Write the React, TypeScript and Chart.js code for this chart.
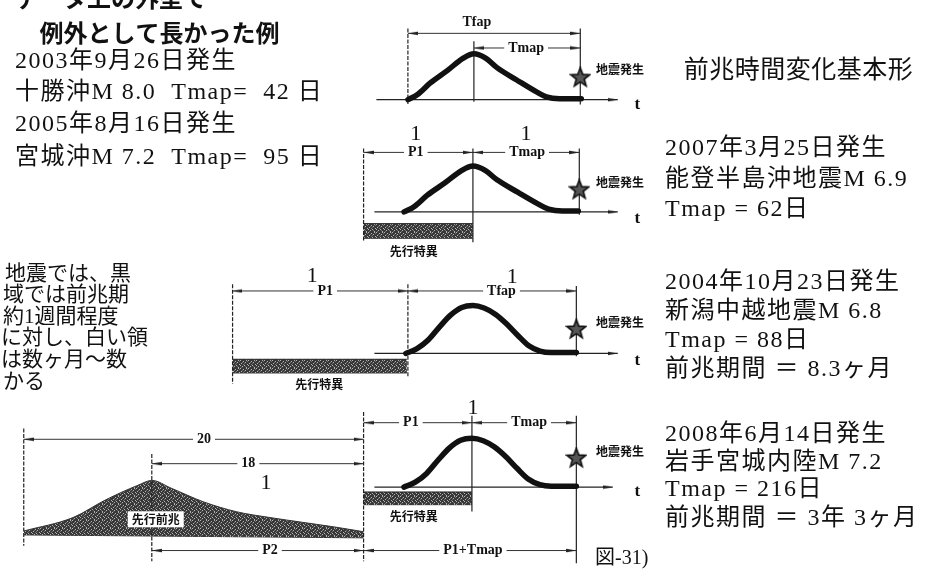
import React, { useEffect, useRef } from "react";
import { Chart, registerables } from "chart.js";

Chart.register(...registerables);

// ---------------- data ----------------
// pointed pulse (upper two panels): time in shape units, normalised amplitude
const pulseT = [-3, -2.55, -2, -1.2, -0.5, 0, 0.55, 1.05, 1.95, 2.85, 3.3, 3.9];
const pulseA = [0, 0.12, 0.36, 0.64, 0.9, 1, 0.9, 0.7, 0.43, 0.17, 0.06, 0.02];
// rounded pulse (lower two panels)
const roundT = [-3, -2.5, -2, -1.5, -1, -0.5, 0, 0.5, 1, 1.5, 2, 2.5, 3, 3.5];
const roundA = [0, 0.1, 0.28, 0.55, 0.8, 0.96, 1, 0.95, 0.82, 0.62, 0.38, 0.16, 0.05, 0.02];
// long precursor mound (fraction of span, normalised height)
const moundU = [0, 0.145, 0.24, 0.336, 0.377, 0.435, 0.53, 0.626, 0.725, 0.82, 0.916, 1];
const moundH = [0.07, 0.32, 0.64, 0.91, 1, 0.86, 0.62, 0.45, 0.35, 0.27, 0.19, 0.11];

// texts
const headerLines = ["データ上の外型で", "例外として長かった例"];
const exceptionLines = [
  "2003年9月26日発生",
  "十勝沖M 8.0  Tmap=  42 日",
  "2005年8月16日発生",
  "宮城沖M 7.2  Tmap=  95 日",
];
const noteLines = ["地震では、黒", "域では前兆期", "約1週間程度", "に対し、白い領", "は数ヶ月～数", "かる"];
const basicTitle = "前兆時間変化基本形";
const notoLines = ["2007年3月25日発生", "能登半島沖地震M 6.9", "Tmap = 62日"];
const chuetsuLines = ["2004年10月23日発生", "新潟中越地震M 6.8", "Tmap = 88日", "前兆期間 ＝ 8.3ヶ月"];
const iwateLines = ["2008年6月14日発生", "岩手宮城内陸M 7.2", "Tmap = 216日", "前兆期間 ＝ 3年 3ヶ月"];
const quakeLabel = "地震発生";
const anomalyLabel = "先行特異";
const precursorLabel = "先行前兆";
const axisLabel = "t";
const figLabel = "図-31)";
const ratioLabel = "1";
const dimLabels = ["Tfap", "Tmap", "P1", "Tmap", "P1", "Tfap", "20", "18", "P2", "P1", "Tmap", "P1+Tmap"];

// ---------------- layout (diagram coordinates) ----------------
const panels = [
  { round: false, peak: 474, unit: 22.3, base: 95, h: 47, tail: 583, lineL: 375, lineR: 620 },
  { round: false, peak: 473, unit: 23.3, base: 210, h: 47, tail: 580, lineL: 373, lineR: 620 },
  { round: true, peak: 473, unit: 22.7, base: 355, h: 49, tail: 578, lineL: 373, lineR: 620 },
  { round: true, peak: 472, unit: 23, base: 492, h: 50, tail: 578, lineL: 373, lineR: 615 },
];
const verticals = [
  [407, 22, 100, 1], [474, 35, 97, 0], [582, 22, 100, 0],
  [362, 145, 240, 1], [473, 145, 241, 0], [581, 145, 213, 0],
  [229, 284, 386, 1], [407, 284, 380, 1], [578, 286, 358, 0],
  [17, 432, 552, 1], [147, 458, 568, 1], [362, 415, 568, 1], [472, 419, 517, 0], [578, 419, 570, 0],
];
// y, x1, x2, label x, label y
const dims = [
  [27, 407, 582, 477, 16],
  [42, 474, 582, 527, 42],
  [149, 362, 473, 415, 149],
  [149, 473, 581, 528, 149],
  [291, 229, 407, 323, 291],
  [291, 407, 578, 502, 291],
  [443, 17, 362, 200, 443],
  [468, 147, 362, 245, 468],
  [557, 147, 362, 267, 557],
  [426, 362, 472, 410, 426],
  [426, 472, 578, 530, 426],
  [557, 362, 578, 473, 557],
];
const bars = [
  [362, 473, 222, 237],
  [229, 406, 361, 375],
  [362, 472, 497, 510],
];
const stars = [[582, 72], [581, 187], [578, 330], [578, 462]];
const mound = { x1: 17, x2: 362, b1: 541, b2: 544, h: 57 };

const SERIF = '"Liberation Serif", "Noto Sans CJK JP", serif';
const GOTHIC = '"Noto Sans CJK JP", sans-serif';

type TextItem = {
  t: string; x: number; y: number; font: string;
  align?: CanvasTextAlign; ls?: number; bg?: boolean; box?: boolean;
};

function buildTexts(): TextItem[] {
  const T: TextItem[] = [];
  T.push({ t: headerLines[0], x: 8, y: -9, font: `bold 24px ${GOTHIC}` });
  T.push({ t: headerLines[1], x: 33, y: 27, font: `bold 24px ${GOTHIC}` });
  const exY = [56, 88, 121, 154];
  exceptionLines.forEach((t, i) => T.push({ t, x: 8, y: exY[i], font: `24px ${SERIF}`, ls: 1.5 }));
  const nX = [-2, -4, -4, -6, -6, -4];
  const nY = [274, 296, 318, 340, 362, 385];
  noteLines.forEach((t, i) => T.push({ t, x: nX[i], y: nY[i], font: `21px ${SERIF}` }));
  T.push({ t: basicTitle, x: 687, y: 63, font: `25px ${GOTHIC}`, ls: 0.5 });
  const rx = 668;
  const nyA = [145, 177, 208];
  notoLines.forEach((t, i) => T.push({ t, x: rx, y: nyA[i], font: `24px ${SERIF}`, ls: 1.5 }));
  const cy = [283, 312, 342, 372];
  chuetsuLines.forEach((t, i) => T.push({ t, x: rx, y: cy[i], font: `24px ${SERIF}`, ls: 1.5 }));
  const iy = [438, 467, 495, 524];
  iwateLines.forEach((t, i) => T.push({ t, x: rx, y: iy[i], font: `24px ${SERIF}`, ls: 1.5 }));
  T.push({ t: figLabel, x: 597, y: 565, font: `20px ${SERIF}` });

  const qy = [64, 180, 323, 455];
  qy.forEach((y) => T.push({ t: quakeLabel, x: 598, y, font: `bold 12px ${GOTHIC}` }));
  const ty = [100, 217, 362, 497];
  ty.forEach((y) => T.push({ t: axisLabel, x: 640, y, font: `bold 17px ${SERIF}`, align: "center" }));
  const ap = [[413, 250], [317, 387], [413, 522]];
  ap.forEach(([x, y]) => T.push({ t: anomalyLabel, x, y, font: `bold 12px ${GOTHIC}`, align: "center" }));
  const ones = [[415, 130], [527, 130], [310, 276], [513, 277], [473, 411], [263, 488]];
  ones.forEach(([x, y]) => T.push({ t: ratioLabel, x, y, font: `22px ${SERIF}`, align: "center" }));
  dims.forEach((d, i) =>
    T.push({ t: dimLabels[i], x: d[3], y: d[4], font: `bold 14px ${SERIF}`, align: "center", bg: true })
  );
  T.push({ t: precursorLabel, x: 151, y: 525, font: `bold 12px ${GOTHIC}`, align: "center", box: true });
  return T;
}

// speckled dark-grey texture (fixed dither, 8x8 tile)
const speckLight = [[0, 0], [3, 1], [6, 0], [1, 3], [5, 2], [7, 4], [2, 6], [4, 5], [6, 7], [0, 5]];
const speckMid = [[2, 2], [7, 1], [4, 3], [1, 7], [5, 6], [3, 4]];
function makePattern(ctx: CanvasRenderingContext2D) {
  const c = document.createElement("canvas");
  c.width = 8; c.height = 8;
  const g = c.getContext("2d")!;
  g.fillStyle = "#383838"; g.fillRect(0, 0, 8, 8);
  g.fillStyle = "#b4b4b4"; speckLight.forEach(([x, y]) => g.fillRect(x, y, 1, 1));
  g.fillStyle = "#707070"; speckMid.forEach(([x, y]) => g.fillRect(x, y, 1, 1));
  return ctx.createPattern(c, "repeat")!;
}

function makeStar() {
  const c = document.createElement("canvas");
  c.width = 22; c.height = 22;
  const g = c.getContext("2d")!;
  g.beginPath();
  for (let i = 0; i < 10; i++) {
    const r = i % 2 === 0 ? 10 : 4.2;
    const a = -Math.PI / 2 + (i * Math.PI) / 5;
    const px = 11 + r * Math.cos(a), py = 11.5 + r * Math.sin(a);
    if (i) g.lineTo(px, py); else g.moveTo(px, py);
  }
  g.closePath();
  g.fillStyle = "#555"; g.fill();
  g.lineWidth = 1.6; g.strokeStyle = "#111"; g.stroke();
  return c;
}

function makeHead(dir: number) {
  const c = document.createElement("canvas");
  c.width = 10; c.height = 5;
  const g = c.getContext("2d")!;
  g.beginPath();
  if (dir < 0) { g.moveTo(0, 2.5); g.lineTo(10, 0.8); g.lineTo(10, 4.2); }
  else { g.moveTo(10, 2.5); g.lineTo(0, 0.8); g.lineTo(0, 4.2); }
  g.closePath();
  g.fillStyle = "#222"; g.fill();
  return c;
}

export default function App() {
  const ref = useRef<HTMLCanvasElement | null>(null);

  useEffect(() => {
    const canvas = ref.current!;
    const ctx = canvas.getContext("2d")!;
    const pat = makePattern(ctx);
    const starImg = makeStar();
    const headL = makeHead(-1);
    const headR = makeHead(1);
    const texts = buildTexts();

    const ds: any[] = [];
    ds.push({ data: stars.map(([x, y]) => ({ x, y })), showLine: false, pointStyle: starImg, pointRadius: 6, order: 0 });

    const lh: any[] = [];
    const rh: any[] = [];
    dims.forEach((d) => { lh.push({ x: d[1] + 5, y: d[0] }); rh.push({ x: d[2] - 5, y: d[0] }); });
    panels.forEach((p) => rh.push({ x: p.lineR - 5, y: p.base }));
    ds.push({ data: lh, showLine: false, pointStyle: headL, pointRadius: 4, order: 1 });
    ds.push({ data: rh, showLine: false, pointStyle: headR, pointRadius: 4, order: 1 });

    panels.forEach((p) => {
      const T = p.round ? roundT : pulseT;
      const A = p.round ? roundA : pulseA;
      const pts = T.map((t, i) => ({ x: p.peak + t * p.unit, y: p.base - A[i] * p.h }));
      pts.push({ x: p.tail, y: p.base - A[A.length - 1] * p.h });
      ds.push({
        data: pts, borderColor: "#111", borderWidth: 5.5, cubicInterpolationMode: "monotone",
        borderJoinStyle: "round", borderCapStyle: "round", order: 2,
      });
    });

    panels.forEach((p) => {
      ds.push({ data: [{ x: p.lineL, y: p.base }, { x: p.lineR, y: p.base }], borderColor: "#222", borderWidth: 1.3, order: 3 });
    });
    verticals.forEach(([x, y1, y2, dashed]) => {
      ds.push({
        data: [{ x, y: y1 }, { x, y: y2 }], borderColor: "#222", borderWidth: 1.2,
        borderDash: dashed ? [4, 1.5] : [], order: 3,
      });
    });
    dims.forEach((d) => {
      ds.push({ data: [{ x: d[1], y: d[0] }, { x: d[2], y: d[0] }], borderColor: "#333", borderWidth: 1, order: 3 });
    });

    bars.forEach(([x1, x2, y1, y2]) => {
      ds.push({
        data: [{ x: x1, y: y1 }, { x: x2, y: y1 }], borderColor: "#222", borderWidth: 1,
        fill: "+1", backgroundColor: pat, order: 4,
      });
      ds.push({ data: [{ x: x1, y: y2 }, { x: x2, y: y2 }], borderColor: "#222", borderWidth: 1, order: 4 });
    });

    const baseAt = (u: number) => mound.b1 + u * (mound.b2 - mound.b1);
    ds.push({
      data: moundU.map((u, i) => ({ x: mound.x1 + u * (mound.x2 - mound.x1), y: baseAt(u) - moundH[i] * mound.h })),
      borderColor: "#333", borderWidth: 1, cubicInterpolationMode: "monotone",
      fill: "+1", backgroundColor: pat, order: 4,
    });
    ds.push({
      data: [{ x: mound.x1, y: mound.b1 }, { x: mound.x2, y: mound.b2 }],
      borderColor: "#333", borderWidth: 1, order: 4,
    });

    const textPlugin = {
      id: "diagramTexts",
      afterDatasetsDraw(chart: any) {
        const c = chart.ctx as CanvasRenderingContext2D;
        const sx = chart.scales.x, sy = chart.scales.y;
        c.save();
        for (const it of texts) {
          c.font = it.font;
          c.textAlign = it.align || "left";
          c.textBaseline = "middle";
          (c as any).letterSpacing = (it.ls || 0) + "px";
          const px = sx.getPixelForValue(it.x);
          const py = sy.getPixelForValue(it.y);
          if (it.bg || it.box) {
            const w = c.measureText(it.t).width;
            const left = it.align === "center" ? px - w / 2 : px;
            c.fillStyle = "#fff";
            if (it.box) {
              c.fillRect(left - 4, py - 8, w + 8, 16);
            } else {
              c.fillRect(left - 4, py - 6, w + 8, 12);
            }
          }
          c.fillStyle = "#111";
          c.fillText(it.t, px, py);
        }
        (c as any).letterSpacing = "0px";
        c.restore();
      },
    };

    const chart = new Chart(canvas, {
      type: "line",
      data: { datasets: ds },
      plugins: [textPlugin],
      options: {
        animation: false,
        responsive: false,
        devicePixelRatio: 1,
        events: [],
        layout: { padding: 0 },
        elements: { point: { radius: 0 }, line: { tension: 0 } },
        plugins: { legend: { display: false }, tooltip: { enabled: false } },
        scales: {
          x: { type: "linear", min: 0, max: 935, display: false },
          y: { type: "linear", min: 0, max: 579, reverse: true, display: false },
        },
      } as any,
    });
    return () => chart.destroy();
  }, []);

  return (
    <div style={{ position: "absolute", left: 0, top: 0, width: 935, height: 579, background: "#fff" }}>
      <canvas ref={ref} width={935} height={579} style={{ display: "block" }} />
    </div>
  );
}
